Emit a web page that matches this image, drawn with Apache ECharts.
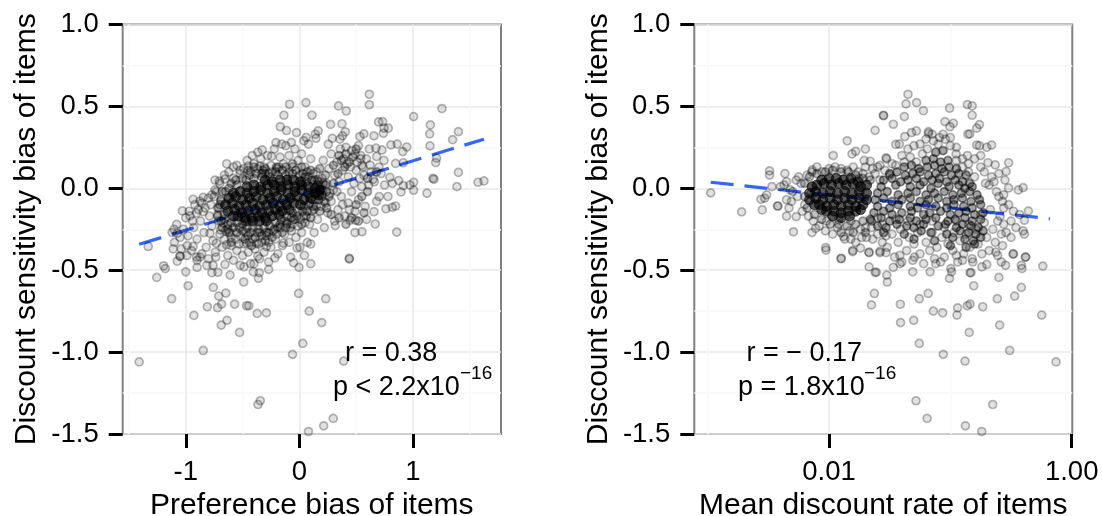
<!DOCTYPE html>
<html><head><meta charset="utf-8">
<script src="https://cdn.jsdelivr.net/npm/echarts@6/dist/echarts.min.js"></script>
<style>html,body{margin:0;padding:0;background:#fff}#c{width:1102px;height:516px}</style>
</head><body><div id="c"></div>
<script>
const yTicks = [-1.5,-1,-0.5,0,0.5,1];
const prefTicks = [-1,0,1];
const rateTicks = [-2,0];
const xNameLeft = 'Preference bias of items';
const xNameRight = 'Mean discount rate of items';
const yName = 'Discount sensitivity bias of items';
const trendLeft = [[-1.41,-0.342],[1.625,0.30]];
const trendRight = [[-2.975,0.037],[-0.179,-0.186]];

// Left panel: preference bias vs sensitivity bias
const prefOutliers = [[-1.41,-1.06],[-.846,-.99],[-.06,-1.014],[.03,-.947],[.39,-1.055],[-.344,-1.297],[-.364,-1.32],[.298,-1.405],[.214,-1.45],[.08,-1.485],[-.526,-.88],[-.687,-.835],[-.637,-.806],[-.928,-.776],[-.81,-.723],[-.72,-.729],[-.684,-.707],[-.57,-.707],[-.464,-.717],[-.445,-.717],[-.371,-.764],[-.29,-.76],[.087,-.75],[.197,-.82],[-.006,-.642],[.233,-.674],[-1.124,-.674],[-.979,-.595],[-.757,-.605],[-.71,-.658],[-.647,-.64],[-.49,-.572],[-1.255,-.544],[.44,-.432],[.1,-.46],[-.003,-.483],[-1,-.51],[-1.18,-.49],[-1.195,-.473],[-.9,-.483],[-.77,-.515],[-.717,-.513],[-.61,-.53],[-.36,-.55],[-.405,-.51],[-.353,-.515],[-.27,-.495],[-.487,-.479],[-.52,-.47],[-.655,-.465],[-.815,-.47],[-1.075,-.445],[-1.05,-.414],[-.905,-.42],[-.875,-.42],[-.735,-.42],[-.216,-.425],[-.077,-.42],[-.05,-.455],[.045,-.41],[-.4,-.46],[-.365,-.415],
[.616,.574],[.616,.51],[.345,.503],[.413,.472],[.058,.523],[.111,.446],[1.255,.487],[1.006,.438],[1.153,.387],[1.147,.332],[1.4,.346],[1.349,.297],[1.15,.259],[1.208,.184],[1.2,.157],[1.4,.097],[1.176,.061],[1.185,.055],[1.387,.01],[1.573,.037],[1.625,.045],[1.123,-.03],[1.006,-.012],[1.006,.037],[.973,.02],[.915,.016],[.895,-.022],[.874,.047],[.818,.03],[.75,.02],[.797,.067],[.78,-.05],[.703,-.05],[.68,-.08],[.847,-.108],[.818,-.116],[.762,-.125],[.657,-.143],[.668,-.218],[.857,-.267],[.551,-.265],[.49,-.27],[.592,-.19],[.495,-.195],[.445,-.195],[.44,-.427],[.1,-.34],[.316,-.228],[.698,.405],[.733,.407],[.745,.367],[.783,.367],[.74,.336],[.657,.32],[.568,.332],[.533,.316],[.404,.345],[.375,.394],[.275,.39],[.166,.35],[.146,.305],[.29,.305],[.255,.269],[.38,.32],[.357,.3],[.806,.265],[.862,.27],[.945,.252],[.91,.224],[.727,.234],[.674,.245],[.616,.24],[.745,.17],[.68,.194],[.847,.152],[.915,.156],[.622,.142],[.72,.09],[.65,.055],[.56,.13],[.54,.18],
[-.086,.513],[-.136,.446],[-.168,.376],[-.113,.353],[-.025,.34],[.04,.29],[-.206,.279],[-.155,.27],[-.07,.28],[-.327,.235],[-.365,.22],[-.414,.2],[-.64,.15],[-.58,.13],[-.523,.11],[-.45,.135],[-.347,.135],[-.245,.195],[-.743,.05],[-.655,.056],[-.705,.044],[-.743,-.01],[-.77,-.04],[-.846,-.055],[-.935,-.067],[-.875,-.078],[-1.03,-.138],[-.905,-.152],[-.963,-.168],[-.846,-.143],[-1.103,-.25],[-1.074,-.275],[-1.33,-.355],[-1.11,-.37],[-1.05,-.415],[-.987,-.35],[-.935,-.355],[-.787,-.275],[-.73,-.335],[-.64,-.345],[-.694,-.255],[-.465,-.335],[-.377,-.335],[-.29,-.355],[-.14,-.335],[-.02,-.365],[.005,-.36]];

const prefHalo = [[-.98,-.29],[-.93,-.24],[-.9,-.31],[-.87,-.2],[-.84,-.27],[-.82,-.36],[-.79,-.17],[-.77,-.23],[-.76,-.32],[-.74,-.39],[-.72,-.12],[-.71,-.2],[-.7,-.28],[-.68,-.36],[-.66,-.31],[-.63,-.41],[-.61,-.27],[-.6,-.35],[-.58,-.44],[-.56,-.31],[-.55,-.38],[-.52,-.29],[-.5,-.41],[-.49,-.34],[-.47,-.27],[-.45,-.39],[-.43,-.46],[-.41,-.31],[-.39,-.37],[-.37,-.27],[-.35,-.43],[-.33,-.33],[-.31,-.39],[-.29,-.29],[-.27,-.45],[-.25,-.36],[-.23,-.26],[-.21,-.31],[-.19,-.4],[-.17,-.24],[-.15,-.35],[-.13,-.28],[-.11,-.21],[-.09,-.33],[-.07,-.26],[-.05,-.19],[-.03,-.3],[-.01,-.23],[.02,-.27],[.04,-.17],[.07,-.33],[.09,-.22],[.11,-.14],[.13,-.27],[.16,-.19],[.19,-.11],[.22,-.24],[.25,-.15],[.28,-.08],[.31,-.2],[.34,-.13],[.37,-.05],[.4,-.17],[.43,-.09],[.46,-.02],[.49,-.14],[.52,-.07],[.55,.01],[.58,-.11],
[.13,.02],[.15,.1],[.18,-.02],[.2,.06],[.21,.17],[.24,.03],[.26,.12],[.28,.21],[.3,-.01],[.31,.08],[.33,.16],[.35,.04],[.36,.24],[.38,.11],[.39,.18],[.41,.25],[.42,.15],[.43,.07],[.45,.13],[.46,.23],[.48,.03],[.49,.21],[.5,.11],[.51,.16],[.52,.26],[.53,.06],[.54,.2],[.55,.14],[.57,.08],[.59,.18],[.61,.02],[.63,.1],[.66,.04],[.7,.13],
[-.7,.03],[-.66,.08],[-.62,.1],[-.58,.06],[-.55,.14],[-.52,.09],[-.49,.12],[-.46,.17],[-.43,.1],[-.4,.15],[-.37,.12],[-.34,.18],[-.31,.13],[-.28,.2],[-.25,.14],[-.22,.24],[-.2,.12],[-.17,.19],[-.14,.15],[-.12,.26],[-.09,.2],[-.06,.13],[-.04,.24],[-.01,.17],[.02,.21],[.05,.13],[.08,.27],[.1,.18],[.12,.09],[.06,.31],[.14,.33],[-.24,.1],[-.18,.13],[-.3,.09],
[-1.12,-.27],[-1.08,-.22],[-1.05,-.3],[-1.02,-.25],[-1,-.18],[-.97,-.14],[-.94,-.2],[-.92,-.1],[-.89,-.13],[-.86,-.09],[-.83,-.12],[-.8,-.06],[-.78,-.1],[-.75,-.05],[-.73,-.02],[-1.1,-.33],[-1.04,-.37],[-.99,-.41],[-.95,-.38],[-.9,-.44],[-.86,-.4],[-.8,-.43],[-.76,-.47],[-.69,-.08],[-.72,-.16],[-.67,-.21],[-.65,-.26],[-.6,-.3],[-.53,-.34],[-.44,-.33],[-.36,-.34],[-.27,-.33],[-.2,-.28],[-.12,-.24],[-.06,-.22],[.01,-.19],[.05,-.21],[.08,-.1],[.12,-.07],[.15,-.11],[.2,-.05],[.23,-.09],[.17,.01],[.27,-.03],[.33,-.02],[.38,-.1],[.44,-.13]];

const prefMid = [[-.5,.06],[-.44,.08],[-.38,.09],[-.32,.11],[-.27,.09],[-.21,.1],[-.15,.11],[-.09,.1],[-.03,.11],[.03,.09],[.08,.07],[.13,.05],[.17,.04],[.06,.04],
[-.6,.03],[-.65,-.02],[-.69,-.07],[-.71,-.12],[-.72,-.17],[-.69,-.2],[-.66,-.16],[-.63,-.22],[-.58,-.24],[-.62,-.27],[-.55,-.27],[-.5,-.26],[-.45,-.29],[-.39,-.3],[-.33,-.29],[-.27,-.27],[-.22,-.25],[-.17,-.22],[-.11,-.22],[-.07,-.18],[-.02,-.17],[.03,-.14],[.07,-.14],[.12,-.11],[.17,-.07],[.2,-.01],[.16,.05],[.23,.02],
[-.4,.13],[-.33,.07],[-.12,.13],[.02,.13],[.1,.11],[-.68,-.24],[-.6,-.33],[-.48,-.31],[-.42,-.35],[-.3,-.32],[-.24,-.3],[-.15,-.27],[-.08,-.24],[.02,-.22],[.1,-.18],[.18,-.14],[.24,-.12],[.26,-.05],[.3,.03],[.34,.09],
[.37,.17],[.41,.21],[.44,.16],[.47,.19],[.4,.13],[.35,.2],[.5,.24],
[.6,-.02],[.55,-.05],[.5,-.1],[.57,-.15],[.46,-.18],[.52,-.2],[.35,-.18],[.28,-.16],[.41,-.22],[.6,.06],[.68,.1],[.3,.14],[.23,.08],[.18,.12],
[-.66,-.19],[-.6,-.21],[-.55,-.21],[-.5,-.22],[-.46,-.24],[-.41,-.24],[-.36,-.25],[-.31,-.24],[-.26,-.23],[-.21,-.21],[-.16,-.19],[-.11,-.17],[-.06,-.15],[-.01,-.14],[.04,-.11],[.09,-.09],[.14,-.07],[-.63,-.25],[-.53,-.24],[-.43,-.27],[-.35,-.27],[-.29,-.27],[-.19,-.24],[-.13,-.2],[-.04,-.19],[.06,-.17],[.13,-.13],[-.7,-.1],[-.68,-.02],[-.62,0],[-.55,.02],[-.47,.05],[-.4,.06],[-.33,.09],[-.26,.07],[-.19,.08],[-.12,.08],[-.06,.09],[0,.08],[.05,.07],[.11,.05],[.16,.02],[.21,.03],[-.56,.05],[-.45,.11],[-.3,.12],[-.2,.13],[-.06,.15],[.07,.1],[.2,-.04],[.24,-.02],[.22,-.08]];

const prefCore = [[-.3,.05],[-.24,.04],[-.17,.05],[-.11,.05],[-.05,.05],[.01,.04],
[-.46,.01],[-.4,.02],[-.34,.01],[-.28,.02],[-.22,.02],[-.16,.01],[-.1,.02],[-.04,.01],[.02,.02],[.08,.01],[.14,.0],[.18,-.01],
[-.58,-.03],[-.52,-.02],[-.46,-.03],[-.4,-.02],[-.34,-.01],[-.28,-.03],[-.22,-.02],[-.16,-.01],[-.1,-.03],[-.04,-.02],[.02,-.01],[.08,-.03],[.14,-.03],[.17,-.04],
[-.62,-.06],[-.56,-.05],[-.5,-.07],[-.44,-.06],[-.38,-.05],[-.32,-.07],[-.26,-.06],[-.2,-.05],[-.14,-.07],[-.08,-.06],[-.02,-.05],[.04,-.07],[.1,-.06],
[-.65,-.1],[-.59,-.09],[-.53,-.11],[-.47,-.1],[-.41,-.09],[-.35,-.11],[-.29,-.1],[-.23,-.09],[-.17,-.11],[-.11,-.1],[-.05,-.09],[.01,-.1],
[-.63,-.14],[-.57,-.13],[-.51,-.15],[-.45,-.14],[-.39,-.13],[-.33,-.15],[-.27,-.14],[-.21,-.13],[-.15,-.14],[-.09,-.13],
[-.58,-.17],[-.54,-.17],[-.48,-.18],[-.42,-.18],[-.36,-.17],[-.3,-.18],[-.24,-.17],[-.18,-.16],
[-.47,-.2],[-.41,-.2],[-.35,-.2],[-.29,-.2]];

// Right panel: log10 of mean discount rate vs sensitivity bias
const logRateOutliers = [[-.129,-1.06],[-.511,-.99],[-.879,-1.055],[-1.058,-1.014],[-1.256,-.947],[-1.283,-1.297],[-.651,-1.32],[-1.192,-1.405],[-.876,-1.45],[-.741,-1.485],[-.844,-.88],[-.594,-.835],[-1.302,-.806],[-1.41,-.82],[-.247,-.774],[-.945,-.774],[-.94,-.73],[-1.063,-.76],[-1.14,-.75],[-.733,-.723],[-.838,-.707],[-.86,-.717],[-1.412,-.708],[-1.65,-.712],[-1.626,-.642],[-1.256,-.674],[-1.183,-.642],[-.613,-.674],[-.47,-.658],[-.415,-.605],[-.807,-.595],[-1.519,-.572],[-1.524,-.53],[-1.007,-.55],[-.6,-.544],[-.238,-.475],[-.41,-.49],[-.415,-.47],[-.838,-.515],[-.83,-.515],[-.99,-.51],[-.996,-.49],[-1.167,-.51],[-1.31,-.51],[-1.62,-.513],[-1.61,-.513],[-1.67,-.48],[-1.47,-.483],[-1.415,-.46],[-1.9,-.43],[-2.025,-.377],[-1.805,-.387],[-1.67,-.393],[-1.58,-.393],[-1.53,-.393],[-1.416,-.41],[-1.296,-.42],[-1.12,-.46],[-1.08,-.45],[-.9,-.44],[-.95,-.41],[-.815,-.45],[-.74,-.48],[-.7,-.465],[-.545,-.47],[-.58,-.45],[-.483,-.402],[-.38,-.42],[-.625,-.39],
[-1.349,.574],[-1.365,.515],[-1.278,.523],[-1.222,.474],[-1.552,.446],[-1.379,.438],[-1.47,.391],[-1.006,.489],[-.86,.511],[-.82,.503],[-.82,.446],[-1.044,.407],[-1.003,.376],[-.975,.397],[-.76,.389],[-.783,.367],[-.855,.33],[-.84,.332],[-1.18,.346],[-1.18,.335],[-1.28,.35],[-1.32,.34],[-1.375,.316],[-1.45,.268],[-1.42,.27],[-.783,.264],[-.76,.26],[-.66,.264],[-.7,.25],[-.86,.2],[-.952,.21],[-.52,.156],[-.54,.103],[-.63,.143],[-.69,.156],[-.4,.004],[-.44,-.01],[-.52,.002],[-.56,-.04],[-.57,-.08],[-.357,-.139],[-.39,-.195],[-.4,-.26],[-.39,-.28],[-.5,-.3],[-.48,-.4],[-.38,-.42],[-.57,-.35],[-.56,-.22],[-.61,-.2],[-1.525,.18],
[-2.975,-.028],[-2.72,-.144],[-2.55,-.132],[-2.56,-.067],[-2.514,-.04],[-2.53,-.06],[-2.425,-.108],[-2.42,-.108],[-2.35,-.17],[-2.293,-.266],[-2.49,.106],[-2.49,.081],[-2.363,.09],[-2.47,.01],[-2.4,.01],[-2.37,.02],[-2.35,.04],[-2.32,-.01],[-2.35,-.07],[-2.138,.112],[-2.25,.07],[-2.27,.05],[-2.27,-.173],[-2.33,-.12],[-2.31,-.08],[-2.22,-.14],[-2.14,-.27],[-2.11,-.245],[-2.027,-.362],[-1.9,-.427],[-1.965,.2],[-1.85,.29],[-1.81,.21],[-1.78,.226],[-1.7,.24],[-1.62,.354],[-1.55,.443],[-1.71,.17],[-1.66,.165],[-1.7,.13],[-1.64,.12],[-1.58,.14],[-1.53,.186],[-1.88,-.295],[-1.82,-.31],[-1.73,-.3],[-1.805,-.38],[-1.74,-.365],[-1.67,-.39],[-1.58,-.385],[-1.64,-.31],[-1.56,-.33],[-1.53,-.29]];

const logRateHalo = [[-2.3,-.02],[-2.26,-.05],[-2.23,.03],[-2.2,-.1],[-2.18,.08],[-2.17,-.17],[-2.14,.1],[-2.13,-.2],[-2.1,.13],[-2.08,-.23],[-2.06,.1],[-2.03,-.26],[-2,.12],[-1.97,-.28],[-1.95,.13],[-1.93,-.24],[-1.9,.12],[-1.87,-.31],[-1.85,.11],[-1.83,-.26],[-1.8,.13],[-1.78,-.33],[-1.76,.1],[-1.74,-.25],[-1.72,.09],[-1.69,-.3],[-1.67,.07],[-1.65,-.24],[-1.62,.09],[-1.6,-.28],[-1.58,.05],[-1.56,-.22],[-1.54,.11],[-1.52,-.36],[-1.5,.08],[-1.48,-.28],[-1.46,-.42],[-1.45,.14],[-1.43,-.33],[-1.41,-.25],[-1.4,-.45],[-1.38,.16],[-1.36,-.38],[-1.34,-.3],[-1.33,.19],[-1.31,-.44],[-1.3,-.34],[-1.28,.16],[-1.27,-.27],[-1.25,-.4],[-1.23,.21],[-1.22,-.46],[-1.2,-.33],[-1.19,.24],[-1.17,-.38],[-1.15,-.27],[-1.14,.29],[-1.13,-.43],[-1.11,-.36],[-1.09,.31],[-1.07,-.3],[-1.05,-.42],[-1.04,.3],[-1.02,-.34],[-1,.26],[-.98,-.38],[-.97,-.27],[-.95,.17],[-.94,-.45],[-.92,-.32],[-.9,.13],[-.89,-.4],[-.87,-.28],[-.85,.1],[-.84,-.36],[-.82,-.43],[-.8,.07],[-.79,-.25],[-.77,-.34],[-.75,.13],[-.74,-.4],[-.72,-.21],[-.71,.03],[-.7,-.3],[-.68,-.38],[-.67,-.13],[-.66,.07],[-.65,-.25],[-.63,-.33],[-.62,-.02],[-.61,-.41],[-.6,.09],[-.59,-.17],[-.58,-.28],[-.56,-.12],[-.55,.05],[-.54,-.27],[-.52,-.1],[-.5,-.2],[-.48,-.14],[-.46,-.24],[-.43,-.16],
[-1.48,.15],[-1.4,.2],[-1.35,.24],[-1.3,.26],[-1.25,.27],[-1.2,.3],[-1.15,.33],[-1.1,.27],[-1.06,.33],[-1,.31],[-.95,.25],[-.9,.18],[-.85,.15],[-.8,.18],[-.75,.2],[-.72,.1],[-.68,.02],[-.64,.04],[-.6,-.05],[-1.6,.13],[-1.75,.06],[-1.45,-.19],[-1.35,-.2],[-1.25,-.22],[-1.15,-.2],[-1.05,-.24],[-.95,-.2],[-.85,-.22],[-.75,-.16],[-1.6,-.18],[-1.7,-.24],[-1.82,-.2],[-1.92,-.19],[-2.02,-.2]];

const logRateMid = [[-2.2,.03],[-2.2,-.05],[-2.16,.07],[-2.1,.09],[-2.03,.1],[-1.97,.11],[-1.9,.1],[-1.84,.1],[-1.78,.08],[-1.72,.06],[-1.66,.05],
[-2.18,-.12],[-2.12,-.16],[-2.06,-.19],[-1.99,-.22],[-1.92,-.22],[-1.85,-.23],[-1.78,-.22],[-1.72,-.2],[-1.65,-.2],[-1.9,-.27],[-1.8,-.27],[-1.7,-.27]];

const logRateDome = [[-1.12,.22],[-1.06,.23],[-1.2,.17],[-1.14,.18],[-1.08,.16],[-1.02,.17],
[-1.38,.13],[-1.32,.14],[-1.26,.12],[-1.19,.13],[-1.13,.14],[-1.07,.12],[-1.01,.13],[-.95,.12],
[-1.5,.09],[-1.44,.1],[-1.37,.08],[-1.31,.09],[-1.25,.1],[-1.18,.08],[-1.12,.09],[-1.05,.1],[-.99,.08],[-.93,.09],[-.87,.08],
[-1.55,.05],[-1.48,.06],[-1.41,.04],[-1.35,.05],[-1.28,.06],[-1.22,.04],[-1.15,.05],[-1.09,.06],[-1.03,.04],[-.96,.05],[-.9,.04],[-.84,.03],
[-1.57,.01],[-1.45,.02],[-1.33,.01],[-1.25,.02],[-1.16,.0],[-1.1,.03],[-1.01,.01],[-.93,.02],[-.88,.0],[-.82,.01],
[-1.6,-.03],[-1.52,-.02],[-1.43,-.04],[-1.35,-.03],[-1.28,-.02],[-1.2,-.04],[-1.13,-.03],[-1.05,-.02],[-.98,-.04],[-.91,-.03],[-.84,-.02],[-.78,-.04],
[-1.62,-.07],[-1.55,-.06],[-1.48,-.08],[-1.4,-.07],[-1.33,-.06],[-1.25,-.08],[-1.18,-.07],[-1.1,-.06],[-1.03,-.08],[-.97,-.07],[-.9,-.06],[-.83,-.08],[-.76,-.07],
[-1.6,-.11],[-1.5,-.12],[-1.43,-.1],[-1.33,-.11],[-1.27,-.12],[-1.2,-.1],[-1.12,-.11],[-1.03,-.12],[-.97,-.1],[-.89,-.11],[-.82,-.12],[-.75,-.1],
[-1.63,-.15],[-1.55,-.14],[-1.48,-.16],[-1.4,-.15],[-1.32,-.14],[-1.22,-.16],[-1.17,-.15],[-1.08,-.14],[-1,-.16],[-.93,-.15],[-.87,-.14],[-.8,-.16],[-.73,-.15],
[-1.66,-.19],[-1.57,-.18],[-1.5,-.2],[-1.42,-.19],[-1.33,-.18],[-1.28,-.2],[-1.2,-.19],[-1.12,-.18],[-1.02,-.2],[-.96,-.19],[-.88,-.18],[-.82,-.2],[-.75,-.19],
[-1.6,-.23],[-1.53,-.24],[-1.44,-.22],[-1.36,-.23],[-1.3,-.24],[-1.22,-.22],[-1.1,-.23],[-1.04,-.22],[-.95,-.24],[-.9,-.22],[-.83,-.23],[-.77,-.24],
[-1.55,-.27],[-1.38,-.28],[-1.24,-.26],[-1.16,-.27],[-1.03,-.28],[-.92,-.26],[-.85,-.27],[-.79,-.28],[-.73,-.26],
[-1.3,-.31],[-1.13,-.32],[-.98,-.3],[-.88,-.31],[-.81,-.32],[-.75,-.3],[-1,-.35],[-.87,-.36],[-.8,-.34]];

const logRateCore = [[-2.06,.05],[-2,.06],[-1.94,.06],[-1.88,.05],[-1.82,.06],[-1.76,.04],
[-2.14,.01],[-2.1,.02],[-2.04,.03],[-1.98,.02],[-1.92,.03],[-1.86,.02],[-1.8,.03],[-1.74,.01],[-1.69,.02],
[-2.16,-.03],[-2.11,-.02],[-2.05,-.03],[-1.99,-.02],[-1.93,-.03],[-1.87,-.02],[-1.81,-.03],[-1.75,-.02],[-1.69,-.03],
[-2.16,-.07],[-2.11,-.06],[-2.05,-.07],[-1.99,-.06],[-1.93,-.07],[-1.87,-.06],[-1.81,-.07],[-1.75,-.06],[-1.69,-.07],
[-2.12,-.1],[-2.08,-.1],[-2.02,-.11],[-1.96,-.1],[-1.9,-.11],[-1.84,-.1],[-1.78,-.11],[-1.72,-.1],
[-2.06,-.13],[-2.02,-.14],[-1.96,-.14],[-1.9,-.15],[-1.84,-.14],[-1.78,-.14],[-1.74,-.13],
[-1.97,-.17],[-1.9,-.18],[-1.83,-.17]];

const ringStyle = {color:'rgba(0,0,0,0.15)', borderColor:'rgba(0,0,0,0.34)', borderWidth:1.7};
const midStyle = {color:'rgba(0,0,0,0.3)', borderColor:'rgba(0,0,0,0.42)', borderWidth:1.7};
const domeStyle = {color:'rgba(0,0,0,0.45)', borderColor:'rgba(0,0,0,0.55)', borderWidth:1.7};
const coreStyle = {color:'rgba(0,0,0,0.8)', borderColor:'rgba(0,0,0,0.7)', borderWidth:1};
const font = 'Liberation Sans';
const tickCol = '#000';

function xAxisOf(i, min, max, ticks, name, fmt){
  return {gridIndex:i, type:'value', min, max, name, nameLocation:'middle', nameGap:54,
    nameTextStyle:{fontFamily:font,fontSize:30,color:'#000'},
    axisLine:{show:false,onZero:false},
    axisTick:{show:true,length:14,customValues:ticks,lineStyle:{color:tickCol,width:3}},
    axisLabel:{show:true,customValues:ticks,margin:24,fontFamily:font,fontSize:27.5,color:'#000',formatter:fmt,showMinLabel:true,showMaxLabel:true,hideOverlap:false},
    splitLine:{show:false}};
}
function yAxisOf(i){
  return {gridIndex:i, type:'value', min:-1.5, max:1, interval:0.5, name:yName, nameLocation:'middle', nameGap:81,
    nameTextStyle:{fontFamily:font,fontSize:30,color:'#000'},
    axisLine:{show:false,onZero:false},
    axisTick:{show:true,length:14,lineStyle:{color:tickCol,width:3}},
    axisLabel:{margin:24,fontFamily:font,fontSize:27.5,color:'#000',formatter:v=>Number(v).toFixed(1)},
    splitLine:{show:true,lineStyle:{color:'#e9e9e9',width:1.5}},
    minorTick:{show:false,splitNumber:2},
    minorSplitLine:{show:true,lineStyle:{color:'#f8f8f8',width:1.5}}};
}
function gridLines(i, major, minor){
  const mk = (vals,col)=>vals.map(v=>({xAxis:v,lineStyle:{color:col,width:1.5,type:'solid'}}));
  return {type:'scatter',xAxisIndex:i,yAxisIndex:i,data:[],z:1,silent:true,
    markLine:{z:1,silent:true,symbol:'none',label:{show:false},animation:false,
      data:mk(minor,'#f8f8f8').concat(mk(major,'#e9e9e9'))}};
}
function line(i,d){return {type:'line',xAxisIndex:i,yAxisIndex:i,data:d,z:2,showSymbol:false,symbol:'none',silent:true,
    lineStyle:{color:'#3366ff',width:3.2,type:[23,11]}};}
function pts(i,d,style,size){return {type:'scatter',xAxisIndex:i,yAxisIndex:i,data:d,z:3,symbolSize:size,itemStyle:style,silent:true,clip:true,large:false};}

function txt(x,y,s,size){return {type:'text',z:10,silent:true,style:{x,y,text:s,fontFamily:font,fontSize:size||27,fill:'#000',textAlign:'left',textVerticalAlign:'middle'}};}

const chart = echarts.init(document.getElementById('c'),null,{renderer:'canvas'});
chart.setOption({
  animation:false, backgroundColor:'#fff',
  grid:[
    {left:122.7,top:24.5,width:378.3,height:409.5,show:true,borderColor:'#808080',borderWidth:2,backgroundColor:'#fff',outerBoundsMode:'none'},
    {left:694.3,top:24.5,width:378,height:409.5,show:true,borderColor:'#808080',borderWidth:2,backgroundColor:'#fff',outerBoundsMode:'none'}
  ],
  xAxis:[
    xAxisOf(0,-1.555,1.775,prefTicks,xNameLeft,v=>String(v)),
    xAxisOf(1,-3.11,0.005,rateTicks,xNameRight,v=>Math.pow(10,v).toFixed(2))
  ],
  yAxis:[yAxisOf(0),yAxisOf(1)],
  series:[
    gridLines(0,prefTicks,[-1.5,-.5,.5,1.5]),
    gridLines(1,[-2],[-3,-1]),
    line(0,trendLeft), line(1,trendRight),
    pts(0,prefCore,coreStyle,10), pts(0,prefMid,midStyle,8), pts(0,prefHalo,ringStyle,8), pts(0,prefOutliers,ringStyle,8),
    pts(1,logRateCore,coreStyle,10), pts(1,logRateDome,domeStyle,8), pts(1,logRateMid,midStyle,8), pts(1,logRateHalo,ringStyle,8), pts(1,logRateOutliers,ringStyle,8)
  ],
  graphic:[
    txt(345,354,'r = 0.38'), txt(333,388,'p < 2.2x10'), txt(460,374,'\u221216',19),
    txt(746.5,354,'r = \u2212 0.17'), txt(738,388,'p = 1.8x10'), txt(864,374,'\u221216',19)
  ]
});
</script></body></html>
